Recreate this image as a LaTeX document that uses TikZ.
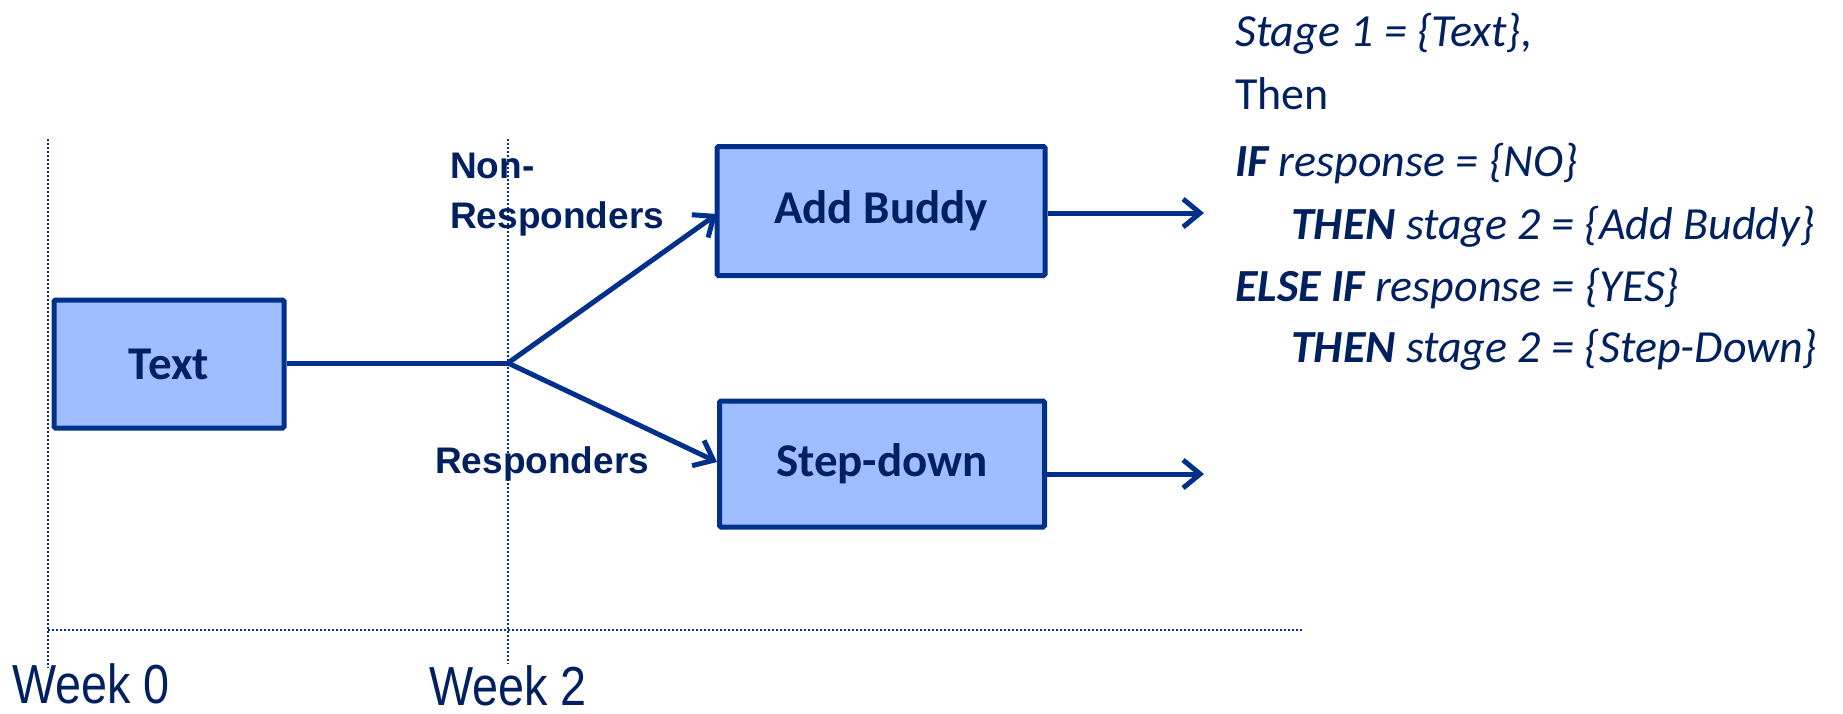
\documentclass[tikz,border=0pt]{standalone}
\usepackage{fontspec}
\setmainfont{Carlito}
\newfontfamily\arialfont{Liberation Sans}
\newfontfamily\weekfont[FakeStretch=0.85]{Liberation Sans}
\usetikzlibrary{arrows.meta}
\definecolor{navy}{RGB}{0,32,96}
\definecolor{linecol}{RGB}{0,48,140}
\definecolor{boxfill}{RGB}{160,190,255}

\begin{document}
\begin{tikzpicture}[x=1pt,y=-1pt,
  stagebox/.style={draw=linecol, line width=5pt, fill=boxfill, rounded corners=1.5pt,
    inner sep=0pt, text=navy, font=\fontsize{47}{56}\selectfont\bfseries},
  flow/.style={draw=linecol, line width=5pt},
  arr/.style={flow, -{Straight Barb[length=17pt,width=28pt]}},
  guide/.style={draw=linecol, line width=2.5pt, dash pattern=on 2pt off 2pt},
  grouplabel/.style={anchor=base west, inner sep=0pt, text=navy,
    font=\arialfont\fontsize{37}{44}\selectfont\bfseries},
  weeklabel/.style={anchor=base west, inner sep=0pt, text=navy,
    font=\weekfont\fontsize{55}{60}\selectfont},
  rule/.style={anchor=base west, inner sep=0pt, text=navy,
    font=\fontsize{46}{56}\selectfont\itshape}]

\useasboundingbox (0,0) rectangle (1843,713);

% time axis
\coordinate (w0top) at (48,139);
\coordinate (w0bot) at (48,668);
\coordinate (w2top) at (508,139);
\coordinate (w2bot) at (508,664);
\coordinate (axisL) at (48,630);
\coordinate (axisR) at (1302,630);
\draw[guide] (w0top) -- (w0bot);
\draw[guide] (w2top) -- (w2bot);
\draw[guide] (axisL) -- (axisR);
\node[weeklabel] (week0) at (12,703) {Week 0};
\node[weeklabel] (week2) at (429,705) {Week 2};

% treatment stages
\node[stagebox, minimum width=230pt, minimum height=128pt] (text) at (169,364) {Text};
\node[stagebox, minimum width=328pt, minimum height=129pt] (buddy) at (881,211) {\raisebox{-3pt}{Add Buddy}};
\node[stagebox, minimum width=325pt, minimum height=126pt] (stepdown) at (882,464) {Step-down};

% branching after week 2
\coordinate (split) at (508,363);
\coordinate (toBuddy) at (717,214);
\coordinate (toStep) at (717,462);
\draw[flow] (text.east |- split) -- (split);
\draw[arr] (split) -- (toBuddy);
\draw[arr] (split) -- (toStep);

\coordinate (outBuddy) at (1204,213);
\coordinate (outStep) at (1204,474);
\draw[arr] (buddy.east |- outBuddy) -- (outBuddy);
\draw[arr] (stepdown.east |- outStep) -- (outStep);

\node[grouplabel] (nonA) at (450,178) {Non-};
\node[grouplabel] (nonB) at (450,228) {Responders};
\node[grouplabel] (resp) at (435,473) {Responders};

% decision rule
\node[rule] (r1) at (1235,46) {Stage 1 = \{Text\},};
\node[rule, font=\fontsize{46}{56}\selectfont] (r2) at (1235,109) {Then};
\node[rule] (r3) at (1235,176) {\textbf{IF} response = \{NO\}};
\node[rule] (r4) at (1291,239) {\textbf{THEN} stage 2 = \{Add Buddy\}};
\node[rule] (r5) at (1235,301) {\textbf{ELSE IF} response = \{YES\}};
\node[rule] (r6) at (1291,362) {\textbf{THEN} stage 2 = \{Step-Down\}};
\end{tikzpicture}
\end{document}
